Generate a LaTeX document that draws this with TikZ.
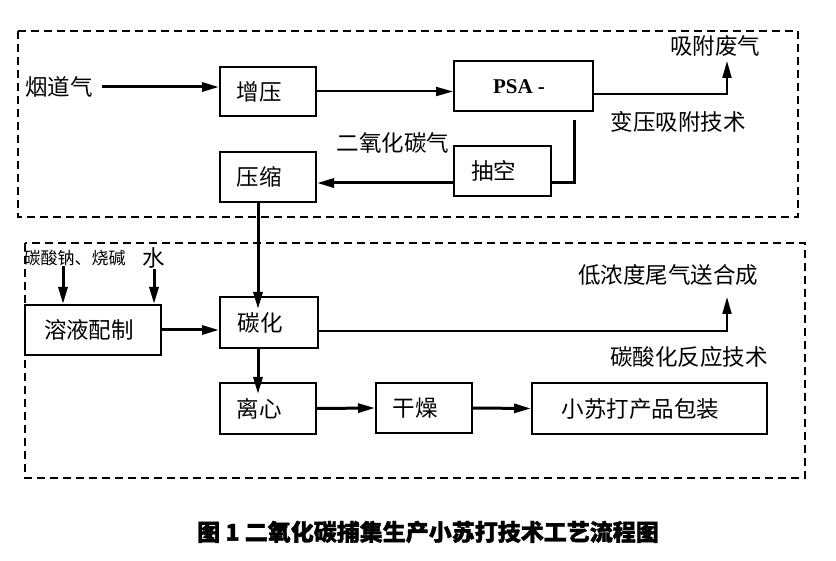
\documentclass[tikz,border=0pt]{standalone}
\usepackage{fontspec}
\setmainfont{Noto Sans CJK SC}
\newfontfamily\psafont{Liberation Serif}
\newfontfamily\capfont{Noto Sans CJK SC}[BoldFeatures={FakeBold=1.5}]
\usetikzlibrary{arrows.meta,positioning,calc}
\newcommand{\diagfont}{\fontsize{22.5}{27}\selectfont}

\begin{document}
\begin{tikzpicture}[x=1pt, y=-1pt,
    box/.style={rectangle, draw=black, line width=2pt, inner sep=0pt},
    lbl/.style={inner sep=0pt, font=\diagfont, xshift=-9pt},
    txt/.style={inner sep=0pt, font=\diagfont},
    zone/.style={draw=black, line width=2pt, dash pattern=on 8pt off 5pt},
    arrow/.style={-{Triangle[length=17pt,width=9pt]}, line width=3pt},
    thinarrow/.style={-{Triangle[length=17pt,width=9pt]}, line width=2pt}
]
\useasboundingbox (0,0) rectangle (836,561);

% Zones
\draw[zone] (18,31) rectangle (798,217);
\draw[zone] (25,243) rectangle (805,478);

% Pressure swing adsorption
\node[txt] (flue) at (59,87) {烟道气};
\node[box, minimum width=96pt, minimum height=49pt, label={[lbl]center:增压}] (zengya) at (268,91.5) {};
\node[box, minimum width=139pt, minimum height=50pt,
      label={[inner sep=0pt, xshift=-4.5pt, font=\psafont\bfseries\fontsize{21}{24}\selectfont]center:PSA -}] (psa) at (523.5,86.5) {};
\node[box, minimum width=97pt, minimum height=50pt, label={[lbl]center:抽空}] (choukong) at (502.5,171) {};
\node[box, minimum width=96pt, minimum height=50pt, label={[lbl]center:压缩}] (yasuo) at (268,177) {};
\node[txt] (feiqi) at (715,46) {吸附废气};
\node[txt] (bianya) at (678,122) {变压吸附技术};
\node[txt] (co2) at (393,143) {二氧化碳气};
\coordinate (feiqitip) at (727,61);

% Carbonation
\node[txt, font=\fontsize{17}{20}\selectfont] (jian) at (74.5,258) {碳酸钠、烧碱};
\node[txt] (shui) at (154,258) {水};
\node[box, minimum width=136pt, minimum height=50pt, label={[lbl, xshift=5pt]center:溶液配制}] (rongye) at (93,330) {};
\node[box, minimum width=98pt, minimum height=51pt, label={[lbl]center:碳化}] (tanhua) at (269,322.5) {};
\node[box, minimum width=96pt, minimum height=51pt, label={[lbl]center:离心}] (lixin) at (268,408.5) {};
\node[box, minimum width=96pt, minimum height=50pt, label={[lbl]center:干燥}] (ganzao) at (424,408) {};
\node[box, minimum width=235pt, minimum height=51pt, label={[lbl]center:小苏打产品包装}] (baozhuang) at (649.5,408.5) {};
\node[txt] (weiqi) at (668,275) {低浓度尾气送合成};
\node[txt] (tansuan) at (689,357) {碳酸化反应技术};
\coordinate (weiqitip) at (727,297);

\node[inner sep=0pt, font=\capfont\fontsize{23}{27}\selectfont\bfseries] (caption) at (428,532) {图 1 二氧化碳捕集生产小苏打技术工艺流程图};

% Gas flow
\draw[arrow, shorten <=9pt] (flue.east) -- (flue.east -| zengya.west);
\draw[thinarrow] (zengya.east) -- (zengya.east -| psa.west);
\draw[thinarrow] ([yshift=-7.5pt]psa.east) -| (feiqitip);
\draw[line width=3pt] ([xshift=50.5pt, yshift=-7.5pt]psa.south) |- ([yshift=-12pt]choukong.east);
\draw[arrow] ([yshift=-12pt]choukong.west) -- ([yshift=-12pt]choukong.west -| yasuo.east);
\draw[arrow, shorten >=-13pt] ([xshift=-10pt]yasuo.south) -- ([xshift=-10pt]yasuo.south |- tanhua.north);

% Solution flow
\draw[arrow] ([xshift=-30pt]rongye.north |- jian.south) -- ([xshift=-30pt]rongye.north);
\draw[arrow] (shui.south) -- (shui.south |- rongye.north);
\draw[arrow] (rongye.east) -- (rongye.east -| tanhua.west);
\draw[thinarrow] ([yshift=-8.5pt]tanhua.east) -| (weiqitip);
\draw[arrow, shorten >=-12pt] ([xshift=-11pt]tanhua.south) -- ([xshift=-11pt]tanhua.south |- lixin.north);
\draw[arrow] (lixin.east) -- (ganzao.west);
\draw[arrow] (ganzao.east) -- (baozhuang.west);

\end{tikzpicture}
\end{document}
